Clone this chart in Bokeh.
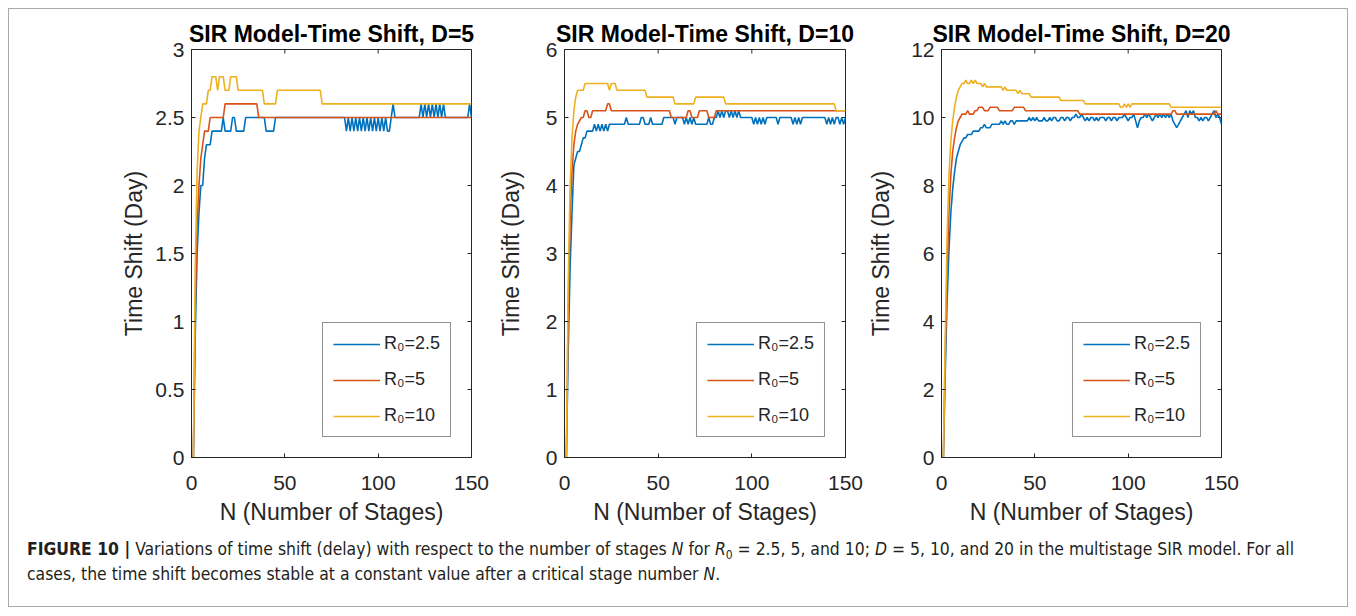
from bokeh.plotting import figure
from bokeh.models import Range1d, FixedTicker, Legend, LegendItem, Div
from bokeh.layouts import row, column
from bokeh.embed import file_html
from bokeh.resources import INLINE

# ---------------- data ----------------
TITLES = ["SIR Model-Time Shift, D=5", "SIR Model-Time Shift, D=10", "SIR Model-Time Shift, D=20"]
X_LABEL = "N (Number of Stages)"
Y_LABEL = "Time Shift (Day)"
SERIES_LABELS = ["R\u2080=2.5", "R\u2080=5", "R\u2080=10"]

X_TICKS = [0, 50, 100, 150]
X_TICK_LABELS = ["0", "50", "100", "150"]
Y_TICKS_D5 = [0, 0.5, 1, 1.5, 2, 2.5, 3]
Y_TICK_LABELS_D5 = ["0", "0.5", "1", "1.5", "2", "2.5", "3"]
Y_TICKS_D10 = [0, 1, 2, 3, 4, 5, 6]
Y_TICK_LABELS_D10 = ["0", "1", "2", "3", "4", "5", "6"]
Y_TICKS_D20 = [0, 2, 4, 6, 8, 10, 12]
Y_TICK_LABELS_D20 = ["0", "2", "4", "6", "8", "10", "12"]

# (N, time shift) vertices of each curve
D5_R25 = [(1, 0), (2, 0.9), (3, 1.5), (4, 1.8), (5, 2.0), (6, 2.0), (7, 2.2), (8, 2.3), (10, 2.3),
          (11, 2.4), (16, 2.4), (17, 2.5), (18, 2.4), (21, 2.4), (22, 2.5), (23, 2.5), (24, 2.4),
          (28, 2.4), (29, 2.5), (39, 2.5), (40, 2.4), (44, 2.4), (45, 2.5), (82, 2.5),
          (83, 2.4), (84, 2.5), (85, 2.4), (86, 2.5), (87, 2.4), (88, 2.5), (89, 2.4), (90, 2.5),
          (91, 2.4), (92, 2.5), (93, 2.4), (94, 2.5), (95, 2.4), (96, 2.5), (97, 2.4), (98, 2.5),
          (99, 2.4), (100, 2.5), (101, 2.4), (102, 2.5), (103, 2.4), (104, 2.5), (105, 2.4),
          (106, 2.4), (108, 2.6), (109, 2.5), (122, 2.5), (123, 2.6), (124, 2.5), (125, 2.6),
          (126, 2.5), (127, 2.6), (128, 2.5), (129, 2.6), (130, 2.5), (131, 2.6), (132, 2.5),
          (133, 2.6), (134, 2.5), (135, 2.6), (136, 2.5), (148, 2.5), (149, 2.6), (150, 2.5)]
D5_R5 = [(1, 0), (2, 1.1), (3, 1.7), (4, 2.0), (5, 2.2), (6, 2.3), (7, 2.4), (9, 2.4), (10, 2.5),
         (17, 2.5), (18, 2.6), (35, 2.6), (36, 2.5), (150, 2.5)]
D5_R10 = [(1, 0), (2, 1.4), (3, 2.1), (4, 2.4), (5, 2.5), (6, 2.6), (8, 2.6), (9, 2.7), (10, 2.7),
          (11, 2.8), (13, 2.8), (14, 2.7), (15, 2.8), (17, 2.8), (18, 2.7), (20, 2.7), (21, 2.8),
          (24, 2.8), (25, 2.7), (38, 2.7), (39, 2.6), (45, 2.6), (46, 2.7), (69, 2.7), (70, 2.6),
          (150, 2.6)]

D10_R25_VALUES = [
    0, 1.6, 2.8, 3.6, 4.3, 4.4, 4.5, 4.5, 4.6, 4.7,
    4.7, 4.8, 4.8, 4.8, 4.8, 4.9, 4.8, 4.9, 4.8, 4.9,
    4.8, 4.9, 4.8, 4.9, 4.9, 4.9, 4.9, 4.9, 4.9, 4.9,
    4.9, 4.9, 5.0, 4.9, 4.9, 4.9, 4.9, 4.9, 4.9, 4.9,
    5.0, 5.0, 4.9, 4.9, 4.9, 5.0, 4.9, 4.9, 4.9, 4.9,
    4.9, 4.9, 5.0, 5.0, 5.0, 5.0, 5.0, 5.0, 4.9, 5.0,
    5.0, 5.0, 5.0, 4.9, 5.0, 4.9, 5.0, 4.9, 5.0, 4.9,
    4.9, 4.9, 4.9, 4.9, 4.9, 4.9, 5.0, 4.9, 4.9, 5.0,
    5.0, 5.1, 5.0, 5.1, 5.0, 5.1, 5.1, 5.0, 5.1, 5.0,
    5.1, 5.0, 5.1, 5.0, 5.0, 5.0, 5.0, 5.0, 5.0, 5.0,
    4.9, 5.0, 4.9, 5.0, 4.9, 5.0, 4.9, 5.0, 5.0, 5.0,
    5.0, 5.0, 5.0, 4.9, 5.0, 5.0, 5.0, 5.0, 5.0, 5.0,
    5.0, 4.9, 5.0, 4.9, 5.0, 4.9, 5.0, 5.0, 5.0, 5.0,
    5.0, 5.0, 5.0, 5.0, 5.0, 5.0, 5.0, 5.0, 5.0, 4.9,
    5.0, 4.9, 5.0, 4.9, 5.0, 5.0, 4.9, 5.0, 4.9, 5.0]
D10_R5 = [(1, 0), (2, 2.2), (3, 3.5), (4, 4.2), (5, 4.6), (6, 4.8), (7, 4.9), (9, 5.0), (10, 5.0),
          (11, 5.1), (12, 5.1), (13, 5.0), (14, 5.0), (15, 5.1), (22, 5.1), (23, 5.2), (24, 5.2),
          (25, 5.1), (56, 5.1), (57, 5.0), (65, 5.0), (66, 5.1), (67, 5.1), (68, 5.0), (71, 5.0),
          (72, 5.1), (76, 5.1), (77, 5.0), (80, 5.0), (81, 5.1), (150, 5.1)]
D10_R10 = [(1, 0), (2, 2.6), (3, 4.0), (4, 4.7), (5, 5.1), (6, 5.3), (7, 5.4), (10, 5.4), (11, 5.5),
           (23, 5.5), (24, 5.4), (25, 5.5), (27, 5.5), (28, 5.4), (43, 5.4), (44, 5.3), (58, 5.3),
           (59, 5.2), (69, 5.2), (70, 5.3), (85, 5.3), (86, 5.2), (144, 5.2), (145, 5.1), (150, 5.1)]

D20_R25_VALUES = [
    0, 2.5, 4.6, 6.1, 7.2, 7.9, 8.4, 8.8, 9.0, 9.2,
    9.3, 9.4, 9.4, 9.5, 9.5, 9.5, 9.6, 9.6, 9.6, 9.6,
    9.7, 9.7, 9.8, 9.7, 9.7, 9.7, 9.8, 9.8, 9.8, 9.8,
    9.8, 9.9, 9.8, 9.9, 9.8, 9.8, 9.9, 9.9, 9.8, 9.9,
    9.9, 9.9, 9.9, 9.9, 9.9, 9.9, 10.0, 9.9, 10.0, 9.9,
    10.0, 9.9, 9.9, 9.9, 10.0, 9.9, 9.9, 10.0, 9.9, 10.0,
    10.0, 9.9, 9.9, 10.0, 10.0, 9.9, 10.0, 10.0, 9.9, 10.0,
    10.0, 10.1, 10.0, 10.0, 10.1, 10.0, 9.9, 10.0, 9.9, 10.0,
    10.0, 9.9, 10.0, 9.9, 10.0, 10.0, 10.0, 9.9, 10.0, 10.0,
    9.9, 10.0, 10.0, 9.9, 10.0, 10.0, 10.0, 10.1, 10.0, 9.9,
    10.0, 10.0, 10.1, 9.9, 9.7, 9.9, 10.0, 10.0, 10.1, 10.0,
    10.1, 10.0, 9.9, 10.0, 10.1, 10.0, 10.1, 10.0, 10.1, 10.0,
    10.1, 10.0, 10.1, 9.9, 9.8, 9.7, 9.8, 9.9, 10.0, 10.1,
    10.2, 10.0, 10.2, 10.1, 10.2, 10.0, 10.0, 9.9, 10.0, 9.9,
    10.0, 10.0, 9.9, 10.0, 10.1, 10.2, 10.0, 10.1, 10.0, 9.8]
D20_R5 = [(1, 0), (2, 3.0), (3, 5.5), (4, 7.2), (5, 8.3), (6, 9.0), (7, 9.4), (8, 9.7), (9, 9.9),
          (10, 10.0), (11, 10.1), (13, 10.1), (14, 10.2), (15, 10.1), (17, 10.1), (18, 10.2),
          (19, 10.2), (20, 10.3), (22, 10.3), (23, 10.2), (25, 10.2), (26, 10.3), (30, 10.3),
          (31, 10.2), (38, 10.2), (39, 10.3), (44, 10.3), (45, 10.2), (73, 10.2), (74, 10.1),
          (123, 10.1), (124, 10.2), (125, 10.2), (126, 10.1), (146, 10.1), (147, 10.2),
          (148, 10.1), (150, 10.1)]
D20_R10 = [(1, 0), (2, 3.5), (3, 6.5), (4, 8.3), (5, 9.3), (6, 9.9), (7, 10.3), (8, 10.6),
           (9, 10.8), (10, 10.9), (11, 11.0), (12, 11.0), (13, 11.1), (14, 11.0), (15, 11.0),
           (16, 11.1), (17, 11.0), (18, 11.1), (19, 11.0), (21, 11.0), (22, 10.9), (23, 11.0),
           (24, 10.9), (32, 10.9), (33, 10.8), (34, 10.9), (35, 10.8), (40, 10.8), (41, 10.7),
           (42, 10.8), (43, 10.7), (47, 10.7), (48, 10.6), (63, 10.6), (64, 10.5), (76, 10.5),
           (77, 10.4), (95, 10.4), (96, 10.3), (97, 10.3), (98, 10.4), (99, 10.3), (100, 10.4),
           (101, 10.3), (102, 10.4), (122, 10.4), (123, 10.3), (150, 10.3)]

STAGES = list(range(1, 151))

COLORS = ["#0072BD", "#D95319", "#EDB120"]
AX = "#262626"
FONT = "Liberation Sans"
FRAME_W, FRAME_H = 282, 408
TICK_PX = 4


def split(pairs):
    return [a for a, _ in pairs], [b for _, b in pairs]


def make_panel(title, ymax, yticks, ylabels, curves, bl, br, ystand):
    xmax = X_TICKS[-1]
    p = figure(frame_width=FRAME_W, frame_height=FRAME_H, min_border_left=bl, min_border_right=br,
               min_border_top=40, min_border_bottom=80, x_range=Range1d(0, xmax),
               y_range=Range1d(0, ymax), output_backend="svg", toolbar_location=None,
               title=title)
    p.background_fill_color = "white"
    p.border_fill_color = "white"
    p.outline_line_color = AX
    p.outline_line_width = 1
    p.xgrid.visible = False
    p.ygrid.visible = False

    p.title.text_font = FONT
    p.title.text_font_size = "23px"
    p.title.text_font_style = "bold"
    p.title.text_color = "black"
    p.title.align = "center"
    p.title.standoff = 6

    xa = p.xaxis[0]
    xa.ticker = FixedTicker(ticks=X_TICKS)
    xa.major_label_overrides = dict(zip(X_TICKS, X_TICK_LABELS))
    xa.axis_label = X_LABEL
    xa.axis_label_standoff = 6
    xa.major_label_standoff = 18
    ya = p.yaxis[0]
    ya.ticker = FixedTicker(ticks=yticks)
    ya.major_label_overrides = dict(zip(yticks, ylabels))
    ya.axis_label = Y_LABEL
    ya.axis_label_standoff = ystand
    ya.major_label_standoff = 7
    for ax in (xa, ya):
        ax.axis_label_text_font = FONT
        ax.axis_label_text_font_size = "23px"
        ax.axis_label_text_font_style = "normal"
        ax.axis_label_text_color = AX
        ax.major_label_text_font = FONT
        ax.major_label_text_font_size = "21px"
        ax.major_label_text_color = AX
        ax.axis_line_color = AX
        ax.major_tick_line_color = AX
        ax.major_tick_in = TICK_PX
        ax.major_tick_out = 0
        ax.minor_tick_line_color = None

    # inward tick marks on the top and right edges of the box (from the same tick arrays)
    dy = ymax * TICK_PX / FRAME_H
    dx = xmax * TICK_PX / FRAME_W
    p.segment(x0=X_TICKS, y0=[ymax] * len(X_TICKS), x1=X_TICKS, y1=[ymax - dy] * len(X_TICKS),
              line_color=AX, line_width=1)
    p.segment(x0=[xmax] * len(yticks), y0=yticks, x1=[xmax - dx] * len(yticks), y1=yticks,
              line_color=AX, line_width=1)

    items = []
    for (xs, ys), lab, col in zip(curves, SERIES_LABELS, COLORS):
        r = p.line(xs, ys, line_color=col, line_width=1.6)
        items.append(LegendItem(label=lab, renderers=[r]))
    leg = Legend(items=items, location="bottom_right", margin=20, padding=10, spacing=15,
                 glyph_width=47, glyph_height=20, label_height=20, label_standoff=4,
                 label_text_font=FONT, label_text_font_size="18px", label_text_color=AX,
                 border_line_color=AX, border_line_width=1,
                 background_fill_color="white", background_fill_alpha=1)
    p.add_layout(leg)
    return p


p1 = make_panel(TITLES[0], 3, Y_TICKS_D5, Y_TICK_LABELS_D5,
                [split(D5_R25), split(D5_R5), split(D5_R10)], 182, 20, 5)
p2 = make_panel(TITLES[1], 6, Y_TICKS_D10, Y_TICK_LABELS_D10,
                [(STAGES, D10_R25_VALUES), split(D10_R5), split(D10_R10)], 72, 20, 19)
p3 = make_panel(TITLES[2], 12, Y_TICKS_D20, Y_TICK_LABELS_D20,
                [(STAGES, D20_R25_VALUES), split(D20_R5), split(D20_R10)], 73, 125, 14)

caption_html = (
    "<div style=\"font-family:'Liberation Sans Narrow','DejaVu Sans Condensed','Liberation Sans',sans-serif;"
    "font-stretch:condensed;font-size:17.4px;line-height:25px;padding:0 0 0 13px;position:relative;top:-5px;"
    "white-space:nowrap;color:#231f20;\">"
    "<b>FIGURE 10 |</b> Variations of time shift (delay) with respect to the number of stages <i>N</i> for "
    "<i>R</i><sub style='font-size:12px;line-height:0;'>0</sub> = 2.5, 5, and 10; <i>D</i> = 5, 10, and 20 in the "
    "multistage SIR model. For all<br>cases, the time shift becomes stable at a constant value after a "
    "critical stage number <i>N</i>.</div>"
)
caption = Div(text=caption_html, width=1338, height=69)

layout = column(row(p1, p2, p3), caption, width=1340, height=599, margin=(8, 8, 8, 8),
                styles={"border": "1px solid #a8a8a8"})

open("out.html", "w").write(file_html(layout, INLINE))
